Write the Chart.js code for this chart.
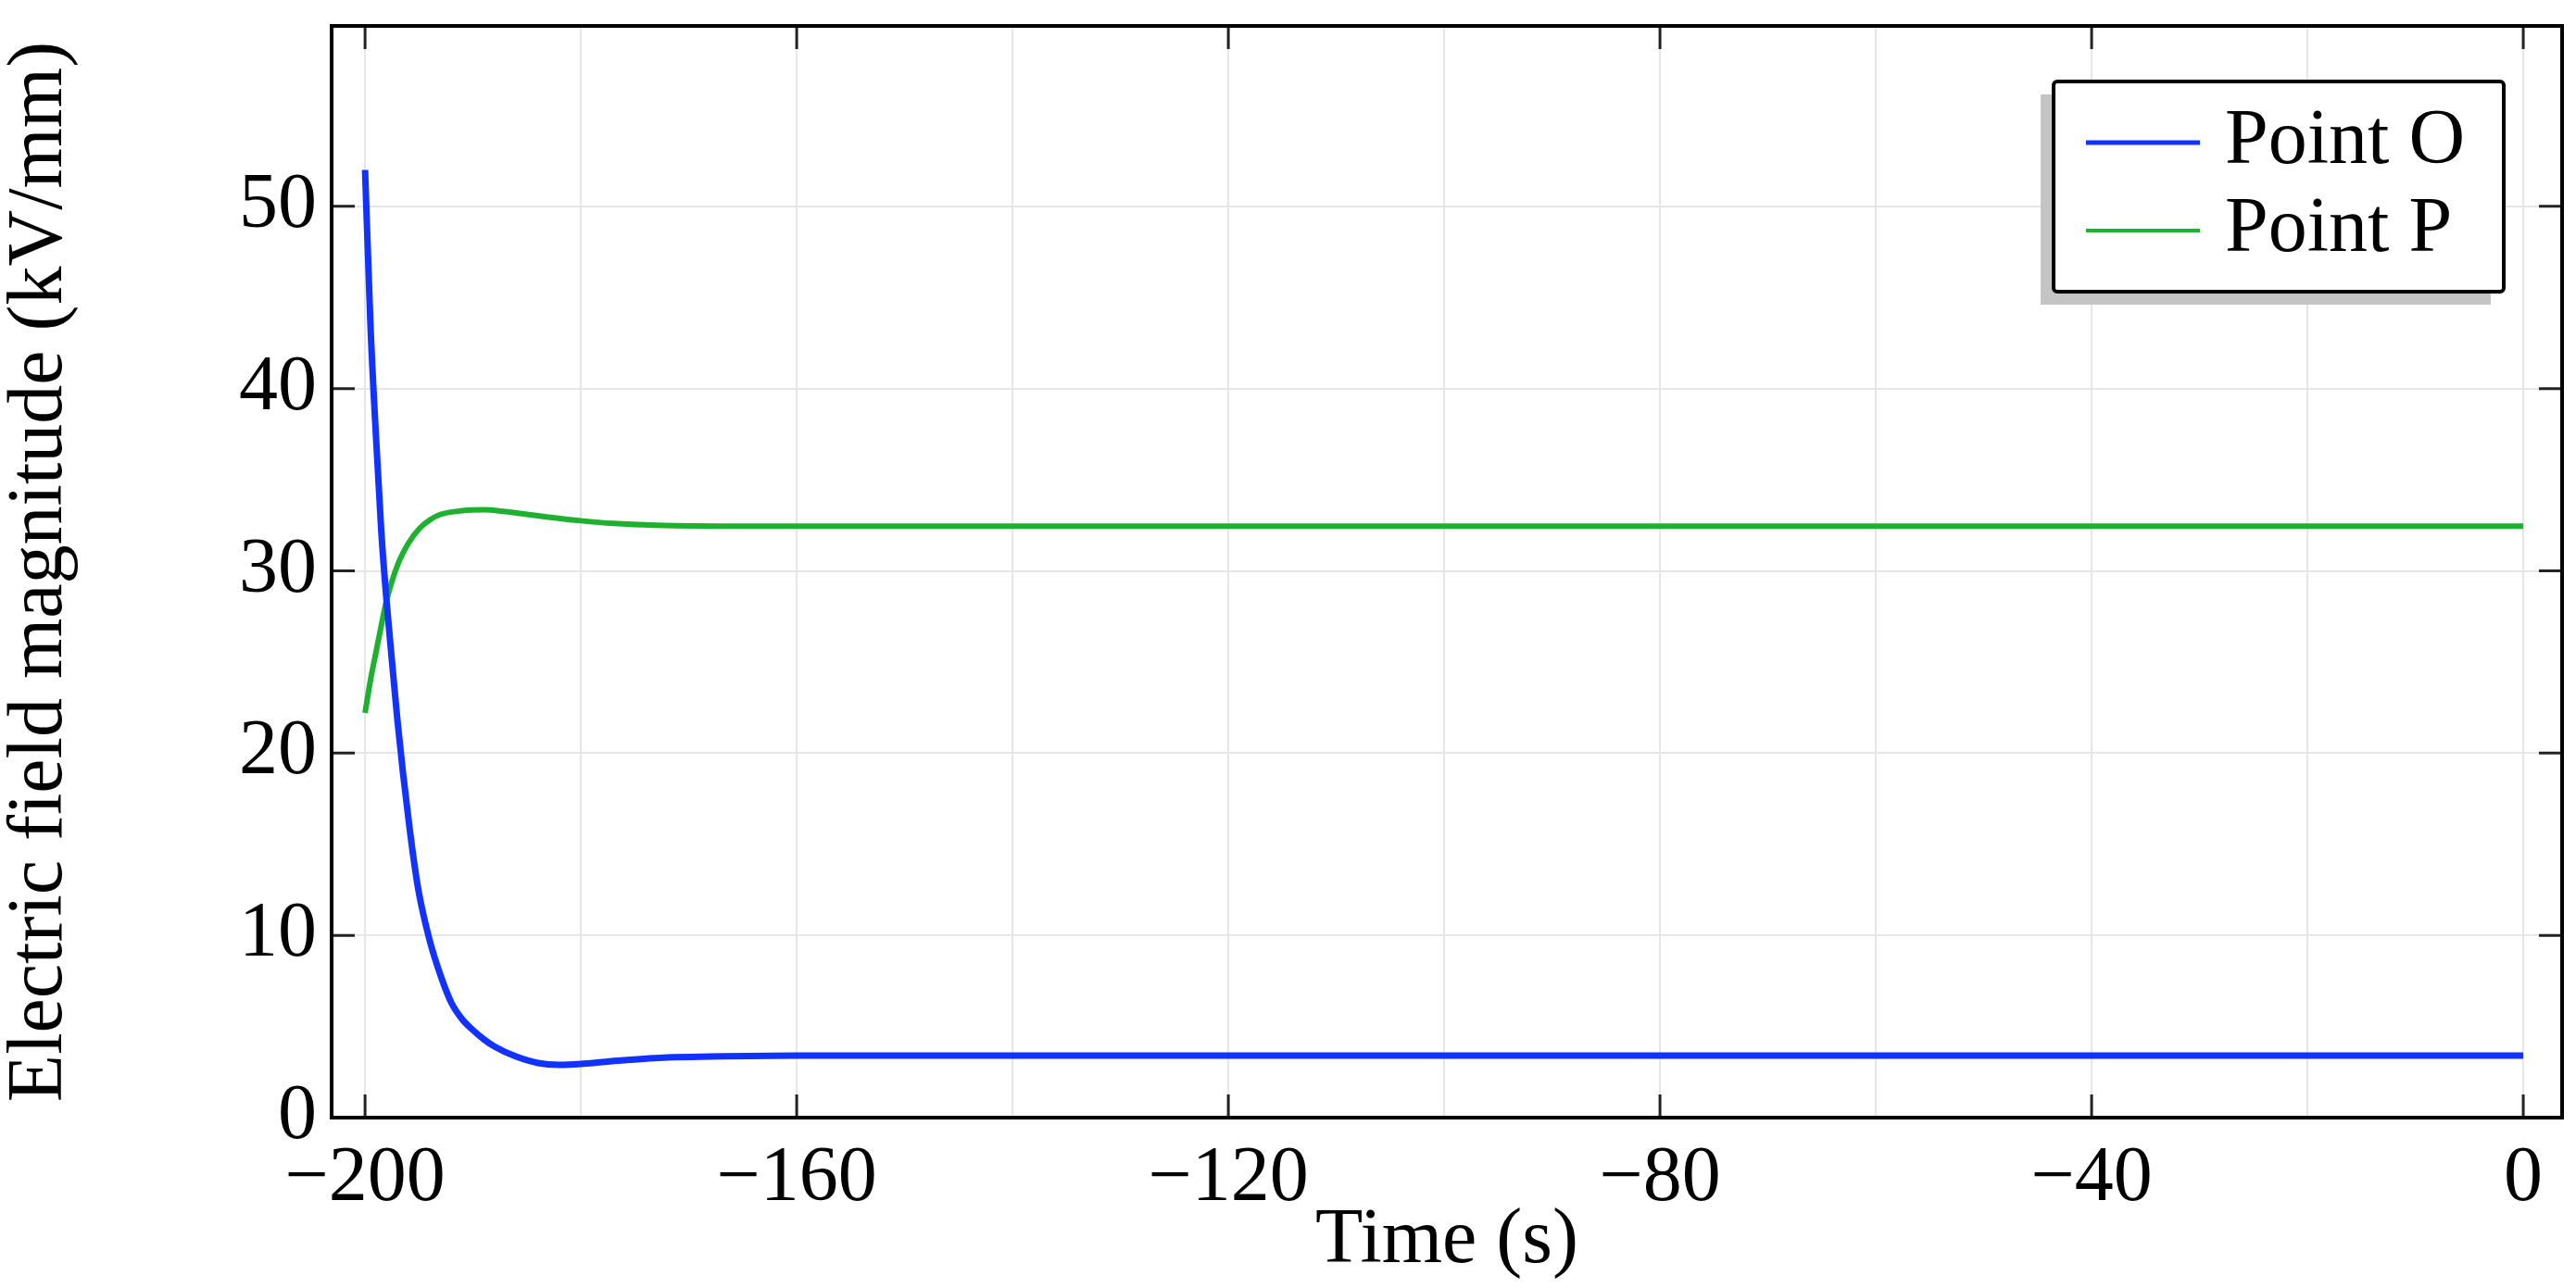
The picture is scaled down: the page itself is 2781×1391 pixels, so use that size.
<!DOCTYPE html>
<html>
<head>
<meta charset="utf-8">
<script src="https://cdn.jsdelivr.net/npm/chart.js@4.4.1/dist/chart.umd.min.js"></script>
<style>
  html, body { margin: 0; padding: 0; background: #fff; }
  canvas { display: block; }
</style>
</head>
<body>
<canvas id="fieldChart" width="2781" height="1391"></canvas>
<script>
// Point O: time (s) and field magnitude (kV/mm)
const timeO = [-200, -199.5, -199, -198.5, -198, -197.5, -197, -196.5, -196, -195.5, -195, -194, -193, -192, -191, -190, -189, -188, -186, -184, -182, -180, -178, -176, -172, -168, -160, -120, -80, -40, 0];
const fieldO = [52.0, 43.5, 37.5, 32.2, 28.3, 25.0, 21.8, 19.0, 16.5, 14.2, 12.3, 9.7, 7.8, 6.3, 5.4, 4.8, 4.3, 3.9, 3.35, 3.0, 2.9, 2.95, 3.05, 3.15, 3.3, 3.35, 3.4, 3.4, 3.4, 3.4, 3.4];

// Point P
const timeP = [-200, -199.5, -199, -198.5, -198, -197, -196, -195, -194, -193, -191, -189, -187, -185, -183, -180, -177, -173, -165, -120, -80, -40, 0];
const fieldP = [22.2, 24.0, 25.5, 27.0, 28.4, 30.3, 31.5, 32.3, 32.8, 33.1, 33.3, 33.35, 33.25, 33.1, 32.95, 32.75, 32.6, 32.5, 32.45, 32.45, 32.45, 32.45, 32.45];

const seriesLabels = ['Point O', 'Point P'];
const seriesColors = ['#1233ff', '#1db12f'];

// grid every 20 s, labels every 40 s
const xGridTicks = [-200, -180, -160, -140, -120, -100, -80, -60, -40, -20, 0];
const xLabelTicks = [-200, -160, -120, -80, -40, 0];
const yLabelTicks = [0, 10, 20, 30, 40, 50];

const FONT = 'Liberation Serif';

const toPoints = (xs, ys) => xs.map((x, i) => ({ x: x, y: ys[i] }));

// frame around plot area plus inward tick marks
const framePlugin = {
  id: 'frame',
  beforeDatasetsDraw(chart) {
    const { ctx, chartArea: a, scales } = chart;
    ctx.save();
    ctx.strokeStyle = '#222';
    ctx.lineWidth = 3;
    ctx.beginPath();
    xLabelTicks.forEach(v => {
      const px = scales.x.getPixelForValue(v);
      ctx.moveTo(px, a.bottom); ctx.lineTo(px, a.bottom - 25);
      ctx.moveTo(px, a.top); ctx.lineTo(px, a.top + 25);
    });
    yLabelTicks.forEach(v => {
      const py = scales.y.getPixelForValue(v);
      ctx.moveTo(a.left, py); ctx.lineTo(a.left + 25, py);
      ctx.moveTo(a.right, py); ctx.lineTo(a.right - 25, py);
    });
    ctx.stroke();
    ctx.restore();
  },
  afterDatasetsDraw(chart) {
    const { ctx, chartArea: a } = chart;
    ctx.save();
    ctx.strokeStyle = '#000';
    ctx.lineWidth = 4;
    ctx.strokeRect(a.left, a.top, a.right - a.left, a.bottom - a.top);
    ctx.restore();
  }
};

// boxed legend with a grey drop shadow, like the original
const boxLegend = {
  id: 'boxLegend',
  afterDraw(chart) {
    const { ctx, chartArea: a } = chart;
    const right = a.right - 63, top = a.top + 60;
    const w = 486, h = 227;
    const left = right - w;
    ctx.save();
    ctx.fillStyle = '#c4c4c4';
    ctx.fillRect(left - 14, top + 14, w, h);
    ctx.fillStyle = '#fff';
    ctx.fillRect(left, top, w, h);
    ctx.strokeStyle = '#000';
    ctx.lineWidth = 4;
    ctx.beginPath();
    ctx.roundRect(left, top, w, h, 4);
    ctx.stroke();
    ctx.font = '84px "' + FONT + '"';
    ctx.textBaseline = 'middle';
    ctx.textAlign = 'left';
    chart.data.datasets.forEach((ds, i) => {
      const y = top + 66 + i * 95;
      ctx.strokeStyle = ds.borderColor;
      ctx.lineWidth = i === 0 ? 5 : 4;
      ctx.beginPath();
      ctx.moveTo(left + 35, y);
      ctx.lineTo(left + 158, y);
      ctx.stroke();
      ctx.fillStyle = '#000';
      ctx.fillText(ds.label, left + 185, y);
    });
    ctx.restore();
  }
};

new Chart(document.getElementById('fieldChart'), {
  type: 'line',
  data: {
    datasets: [
      { label: seriesLabels[0], data: toPoints(timeO, fieldO), borderColor: seriesColors[0], borderWidth: 7 },
      { label: seriesLabels[1], data: toPoints(timeP, fieldP), borderColor: seriesColors[1], borderWidth: 6 }
    ]
  },
  options: {
    responsive: false,
    devicePixelRatio: 1,
    animation: false,
    layout: { padding: { top: 28, right: 15, left: 0, bottom: 0 } },
    elements: {
      point: { radius: 0 },
      line: { cubicInterpolationMode: 'monotone', fill: false }
    },
    plugins: { legend: { display: false }, tooltip: { enabled: false } },
    scales: {
      x: {
        type: 'linear',
        min: -203.1,
        max: 3.6,
        afterBuildTicks: s => { s.ticks = xGridTicks.map(v => ({ value: v })); },
        afterFit: s => { s.height = 184; s.paddingLeft = 0; s.paddingRight = 0; },
        border: { display: false },
        grid: { color: '#e6e6e6', lineWidth: 2, drawTicks: false },
        ticks: {
          autoSkip: false,
          maxRotation: 0,
          padding: 17,
          color: '#000',
          font: { family: FONT, size: 84 },
          callback: v => (xLabelTicks.includes(v) ? (v < 0 ? '\u2212' + Math.abs(v) : String(v)) : '')
        },
        title: {
          display: true,
          text: 'Time (s)',
          color: '#000',
          font: { family: FONT, size: 84, lineHeight: 1 },
          padding: { top: 0, bottom: 8 }
        }
      },
      y: {
        type: 'linear',
        min: 0,
        max: 59.9,
        afterBuildTicks: s => { s.ticks = yLabelTicks.map(v => ({ value: v })); },
        afterFit: s => { s.width = 358; s.paddingTop = 0; s.paddingBottom = 0; },
        border: { display: false },
        grid: { color: '#e6e6e6', lineWidth: 2, drawTicks: false },
        ticks: {
          autoSkip: false,
          padding: 16,
          color: '#000',
          font: { family: FONT, size: 84 },
          callback: v => String(v)
        },
        title: {
          display: true,
          text: 'Electric field magnitude (kV/mm)',
          color: '#000',
          font: { family: FONT, size: 84, lineHeight: 1 },
          padding: { top: 2, bottom: 0 }
        }
      }
    }
  },
  plugins: [framePlugin, boxLegend]
});
</script>
</body>
</html>
